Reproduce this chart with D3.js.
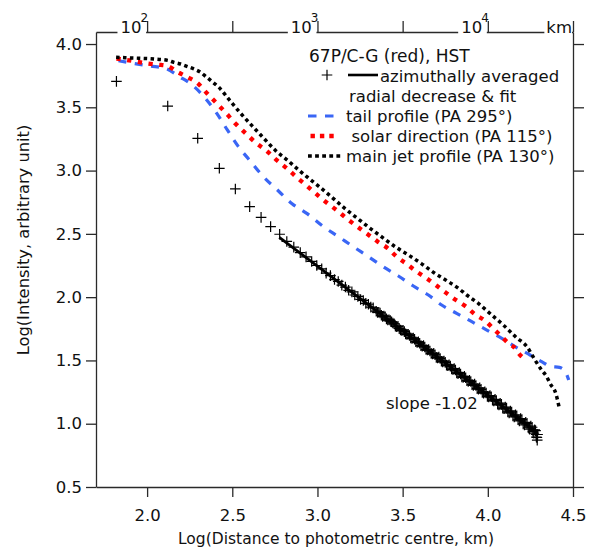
<!DOCTYPE html>
<html><head><meta charset="utf-8">
<script src="https://cdn.jsdelivr.net/npm/d3@7"></script>
<style>
body{margin:0;background:#fff}
svg{display:block}
text{font-family:"DejaVu Sans",Verdana,sans-serif;fill:#111}
</style>
</head><body>
<svg id="c" width="590" height="553"></svg>
<script>
// ---- data ----
const plusX = [1.820,2.121,2.297,2.424,2.518,2.602,2.669,2.725,2.778,
 2.820,2.861,2.899,2.933,2.966,2.996,3.025,3.051,3.076,3.100,3.122,3.143,3.164,3.183,3.202,3.219,3.237,3.253,3.269,3.284,3.299,3.313,3.327,
 3.345,3.360,3.375,3.390,3.405,3.420,3.435,3.450,3.465,3.480,3.495,3.510,3.525,3.540,3.555,3.570,3.585,3.600,3.615,3.630,3.645,3.660,3.675,3.690,
 3.705,3.720,3.735,3.750,3.765,3.780,3.795,3.810,3.825,3.840,3.855,3.870,3.885,3.900,3.915,3.930,3.945,3.960,3.975,3.990,4.005,4.020,4.035,4.050,
 4.065,4.080,4.095,4.110,4.125,4.140,4.155,4.170,4.185,4.200,4.215,4.230,4.245,4.260,4.270,4.280,4.285,4.290,4.292];
const plusY = [3.705,3.510,3.255,3.018,2.855,2.715,2.630,2.557,2.497,
 2.440,2.395,2.352,2.318,2.282,2.250,2.224,2.190,2.170,2.139,2.124,2.095,2.080,2.054,2.042,2.017,2.006,1.982,1.974,1.951,1.944,1.921,1.915,
 1.889,1.881,1.857,1.851,1.828,1.822,1.806,1.790,1.766,1.751,1.737,1.728,1.705,1.697,1.674,1.667,1.643,1.636,1.612,1.606,1.582,1.575,1.551,1.545,
 1.520,1.515,1.489,1.485,1.458,1.455,1.428,1.424,1.396,1.393,1.366,1.363,1.334,1.333,1.303,1.302,1.273,1.272,1.242,1.243,1.211,1.213,1.180,1.183,
 1.149,1.153,1.118,1.123,1.086,1.093,1.054,1.063,1.022,1.033,0.990,1.003,0.957,0.972,0.925,0.945,0.895,0.870,0.915];
// denser outer part of the azimuthal profile
const plusX2 = [3.3525,3.3675,3.3825,3.3975,3.4125,3.4275,3.4425,3.4575,3.4725,3.4875,3.5025,3.5175,3.5325,3.5475,3.5625,3.5775,3.5925,3.6075,3.6225,3.6375,
 3.6525,3.6675,3.6825,3.6975,3.7125,3.7275,3.7425,3.7575,3.7725,3.7875,3.8025,3.8175,3.8325,3.8475,3.8625,3.8775,3.8925,3.9075,3.9225,3.9375,
 3.9525,3.9675,3.9825,3.9975,4.0125,4.0275,4.0425,4.0575,4.0725,4.0875,4.1025,4.1175,4.1325,4.1475,4.1625,4.1775,4.1925,4.2075,4.2225,4.2375,
 4.2525,4.2650,4.2750,4.2840,4.2880];
const plusY2 = [1.879,1.875,1.848,1.845,1.819,1.816,1.796,1.771,1.769,1.741,1.739,1.710,1.707,1.678,1.677,1.648,1.647,1.617,1.617,1.586,
 1.586,1.556,1.556,1.524,1.526,1.494,1.495,1.463,1.465,1.432,1.435,1.401,1.404,1.370,1.374,1.340,1.343,1.309,1.314,1.277,
 1.283,1.247,1.252,1.216,1.222,1.186,1.192,1.154,1.162,1.123,1.131,1.093,1.101,1.061,1.071,1.031,1.041,0.999,1.011,0.968,
 0.981,0.939,0.952,0.915,0.891];
const fitX = [2.776, 4.292];
const fitY = [2.473, 0.927];
const tailX = [1.832,1.920,2.018,2.106,2.190,2.272,2.350,2.409,2.471,2.536,2.601,2.679,2.771,2.849,2.937,3.035,3.123,3.211,3.299,3.387,3.475,3.563,3.651,3.729,3.817,3.906,3.994,4.082,4.160,4.248,4.316,4.370,4.420,4.455,4.475];
const tailY = [3.868,3.847,3.826,3.808,3.742,3.668,3.558,3.452,3.321,3.189,3.083,2.957,2.839,2.740,2.662,2.557,2.478,2.398,2.320,2.240,2.167,2.088,2.017,1.938,1.872,1.806,1.740,1.675,1.609,1.543,1.490,1.452,1.445,1.410,1.345];
const solarX = [1.820,1.881,1.943,2.002,2.063,2.121,2.178,2.239,2.298,2.354,2.409,2.465,2.521,2.579,2.638,2.700,2.757,2.820,2.878,2.937,2.996,3.055,3.117,3.176,3.234,3.295,3.354,3.413,3.465,3.524,3.583,3.641,3.700,3.759,3.813,3.872,3.925,3.984,4.036,4.082,4.126,4.150,4.189,4.214];
const solarY = [3.885,3.874,3.860,3.847,3.837,3.826,3.779,3.737,3.689,3.607,3.531,3.452,3.368,3.294,3.220,3.158,3.087,3.018,2.947,2.880,2.812,2.746,2.683,2.617,2.557,2.497,2.438,2.386,2.320,2.262,2.201,2.149,2.090,2.030,1.977,1.925,1.864,1.814,1.746,1.688,1.630,1.609,1.543,1.514];
const jetX = [1.818,1.870,1.950,2.040,2.121,2.158,2.196,2.233,2.271,2.309,2.346,2.384,2.421,2.483,2.546,2.614,2.685,2.755,2.823,2.894,2.937,3.015,3.090,3.162,3.234,3.309,3.383,3.457,3.534,3.608,3.684,3.759,3.827,3.876,3.944,4.023,4.091,4.166,4.232,4.277,4.316,4.346,4.365,4.400,4.418];
const jetY = [3.895,3.892,3.888,3.882,3.871,3.855,3.842,3.824,3.805,3.781,3.742,3.700,3.658,3.558,3.457,3.357,3.255,3.157,3.083,3.000,2.952,2.868,2.783,2.699,2.623,2.544,2.470,2.398,2.333,2.267,2.193,2.130,2.070,2.017,1.951,1.859,1.780,1.683,1.604,1.503,1.424,1.371,1.319,1.235,1.134];
const xTicks = [2.0,2.5,3.0,3.5,4.0,4.5];
const yTicks = [0.5,1.0,1.5,2.0,2.5,3.0,3.5,4.0];
const topLabelPos = [2,3,4];
const topLabelExp = ["2","3","4"];
const topUnit = "km";
const legendTitle = "67P/C-G (red), HST";
const legendRows = ["azimuthally averaged","radial decrease & fit","tail profile (PA 295°)","solar direction (PA 115°)","main jet profile (PA 130°)"];
const xTitle = "Log(Distance to photometric centre, km)";
const yTitle = "Log(Intensity, arbitrary unit)";
const slopeLabel = "slope -1.02";

// ---- drawing ----
const svg = d3.select("#c");
const x = d3.scaleLinear().domain([1.7,4.5]).range([96,573]);
const y = d3.scaleLinear().domain([0.5,4.095]).range([487,32]);
const axisCol = "#2a2a2a";
const BLUE = "#3a66f5", RED = "#ff0000";

function styleAxis(g){
  g.selectAll("path.domain").attr("stroke",axisCol).attr("stroke-width",1.3);
  g.selectAll(".tick line").attr("stroke",axisCol).attr("stroke-width",1.3);
  g.selectAll("text").attr("font-family","DejaVu Sans, Verdana, sans-serif").attr("fill","#111");
}
const gB = svg.append("g").attr("transform","translate(0,487)")
  .call(d3.axisBottom(x).tickValues(xTicks).tickSize(10).tickSizeOuter(0).tickFormat(d3.format(".1f")));
styleAxis(gB);
gB.selectAll("text").attr("y",33.5).attr("dy",null).attr("font-size",16.5);
const gL = svg.append("g").attr("transform","translate(96,0)")
  .call(d3.axisLeft(y).tickValues(yTicks).tickSize(10).tickSizeOuter(0).tickFormat(d3.format(".1f")));
styleAxis(gL);
gL.selectAll("text").attr("x",-14).attr("font-size",16.5);
const gR = svg.append("g").attr("transform","translate(573,0)")
  .call(d3.axisRight(y).tickValues(yTicks).tickSize(11).tickSizeOuter(0).tickFormat(""));
styleAxis(gR);
const gT = svg.append("g").attr("transform","translate(0,32)")
  .call(d3.axisTop(x).tickValues(xTicks).tickSize(11).tickSizeOuter(0).tickFormat(""));
styleAxis(gT);

topLabelPos.forEach((p,i)=>{
  const t = svg.append("text").attr("x",x(p)+1).attr("y",33).attr("text-anchor","end").attr("font-size",16.5);
  t.append("tspan").text("10");
  t.append("tspan").attr("dx",-1).attr("dy",-11).attr("font-size",12).text(topLabelExp[i]);
  const bb = t.node().getBBox();
  svg.insert("rect", () => t.node()).attr("x",bb.x-3).attr("y",28).attr("width",x(p)-1-(bb.x-3)).attr("height",8).attr("fill","#fff");
});
{
  const t = svg.append("text").attr("x",x(4.5)-1).attr("y",33).attr("text-anchor","end").attr("font-size",16.5).text(topUnit);
  const bb = t.node().getBBox();
  svg.insert("rect", () => t.node()).attr("x",bb.x-2).attr("y",28).attr("width",x(4.5)-1-(bb.x-2)).attr("height",8).attr("fill","#fff");
}

svg.append("text").attr("x",336).attr("y",544).attr("text-anchor","middle").attr("font-size",15.5).text(xTitle);
svg.append("text").attr("transform","translate(29,240) rotate(-90)").attr("text-anchor","middle").attr("font-size",16.3).text(yTitle);

const line = d3.line().x(d=>x(d[0])).y(d=>y(d[1])).curve(d3.curveMonotoneX);
const zip = (a,b)=>a.map((v,i)=>[v,b[i]]);
svg.append("path").datum(zip(tailX,tailY)).attr("d",line).attr("fill","none")
  .attr("stroke",BLUE).attr("stroke-width",3.2).attr("stroke-dasharray","8 8.5");
svg.append("path").datum(zip(solarX,solarY)).attr("d",line).attr("fill","none")
  .attr("stroke",RED).attr("stroke-width",4.3).attr("stroke-dasharray","4.3 6.5");
svg.append("path").datum(zip(jetX,jetY)).attr("d",line).attr("fill","none")
  .attr("stroke","#000").attr("stroke-width",3.5).attr("stroke-dasharray","3.5 3.4");

const plusPath = "M-5.3,0H5.3M0,-5.3V5.3";
svg.append("g").selectAll("path").data(zip(plusX,plusY).concat(zip(plusX2,plusY2))).join("path")
  .attr("d",plusPath).attr("transform",d=>`translate(${x(d[0])},${y(d[1])})`)
  .attr("stroke","#000").attr("stroke-width",1.2).attr("fill","none");
svg.append("path").datum(zip(fitX,fitY)).attr("d",d3.line().x(d=>x(d[0])).y(d=>y(d[1])))
  .attr("stroke","#000").attr("stroke-width",2.8).attr("fill","none");

svg.append("text").attr("x",386).attr("y",409).attr("font-size",16.5).text(slopeLabel);

const lg = svg.append("g").attr("font-size",16.5);
lg.append("text").attr("x",309).attr("y",62).attr("font-size",17).text(legendTitle);
lg.append("path").attr("d",plusPath).attr("transform","translate(327,75)").attr("stroke","#000").attr("stroke-width",1.2);
lg.append("line").attr("x1",348).attr("x2",378).attr("y1",75).attr("y2",75).attr("stroke","#000").attr("stroke-width",2.6);
lg.append("text").attr("x",380).attr("y",81.5).text(legendRows[0]);
lg.append("text").attr("x",349).attr("y",101.5).text(legendRows[1]);
lg.append("line").attr("x1",308).attr("x2",334).attr("y1",116).attr("y2",116).attr("stroke",BLUE).attr("stroke-width",3).attr("stroke-dasharray","8.5 8.5");
lg.append("text").attr("x",346).attr("y",121.5).text(legendRows[2]);
lg.append("line").attr("x1",310.5).attr("x2",335).attr("y1",136).attr("y2",136).attr("stroke",RED).attr("stroke-width",4.3).attr("stroke-dasharray","4.4 5");
lg.append("text").attr("x",351.5).attr("y",141.5).text(legendRows[3]);
lg.append("line").attr("x1",308).attr("x2",341).attr("y1",156).attr("y2",156).attr("stroke","#000").attr("stroke-width",3.6).attr("stroke-dasharray","3.8 3.3");
lg.append("text").attr("x",346).attr("y",161.5).text(legendRows[4]);
</script>
</body></html>
